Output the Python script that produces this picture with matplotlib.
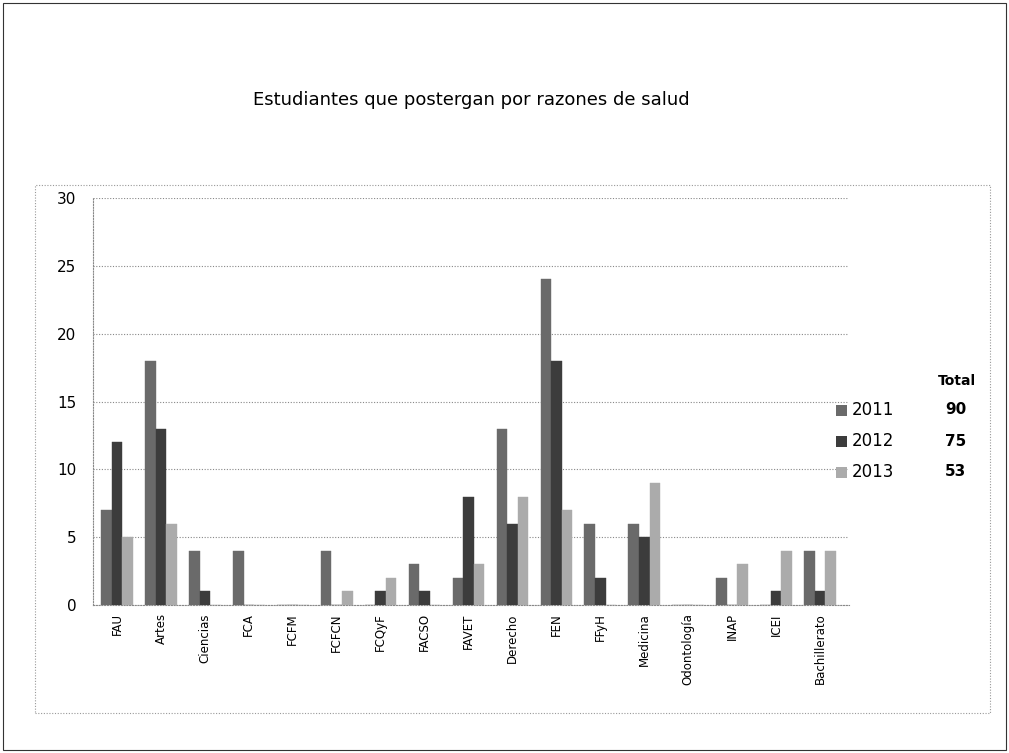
import numpy as np
import matplotlib.pyplot as plt
from matplotlib.patches import Rectangle

# datos
carreras = ['FAU', 'Artes', 'Ciencias', 'FCA', 'FCFM', 'FCFCN', 'FCQyF', 'FACSO', 'FAVET',
            'Derecho', 'FEN', 'FFyH', 'Medicina', 'Odontología', 'INAP', 'ICEI', 'Bachillerato']
v2011 = [7, 18, 4, 4, 0, 4, 0, 3, 2, 13, 24, 6, 6, 0, 2, 0, 4]
v2012 = [12, 13, 1, 0, 0, 0, 1, 1, 8, 6, 18, 2, 5, 0, 0, 1, 1]
v2013 = [5, 6, 0, 0, 0, 1, 2, 0, 3, 8, 7, 0, 9, 0, 3, 4, 4]
anios = ['2011', '2012', '2013']
totales = [90, 75, 53]
colores = ['#6a6a6a', '#3c3c3c', '#ababab']

fig = plt.figure(figsize=(10.09, 7.53), dpi=100)

# marco exterior y borde punteado del area del grafico
fig.patches.append(Rectangle((0.003, 0.004), 0.994, 0.992, transform=fig.transFigure,
                             fill=False, edgecolor='#333333', linewidth=0.8))
fig.patches.append(Rectangle((35 / 1009, 1 - 713 / 753), 955 / 1009, 528 / 753,
                             transform=fig.transFigure, fill=False, edgecolor='#999999',
                             linewidth=0.8, linestyle=(0, (1, 1.5))))

ax = fig.add_axes([0.092, 0.1965, 0.749, 0.5405])
x = np.arange(len(carreras))
w = 0.24
for i, vals in enumerate([v2011, v2012, v2013]):
    ax.bar(x + (i - 1) * w, vals, w, color=colores[i], edgecolor=colores[i],
           hatch='////', linewidth=0.3, zorder=3)

ax.set_ylim(0, 30)
ax.set_xlim(-0.55, len(carreras) - 0.35)
ax.set_yticks(range(0, 31, 5))
ax.set_xticks(x)
ax.set_xticklabels(carreras, rotation=90, fontsize=8.5)
ax.tick_params(axis='y', labelsize=11, length=0, pad=12)
ax.tick_params(axis='x', length=0, pad=6)
ax.grid(axis='y', color='#888888', linestyle=(0, (1, 1.5)), linewidth=0.8, zorder=0)
for s in ['top', 'right']:
    ax.spines[s].set_visible(False)
for s in ['left', 'bottom']:
    ax.spines[s].set_color('#888888')
    ax.spines[s].set_linestyle((0, (1, 1.5)))

fig.text(0.467, 0.867, 'Estudiantes que postergan por razones de salud',
         ha='center', va='center', fontsize=13)

# leyenda con totales
fig.text(938 / 1009, 0.494, 'Total', fontsize=10, fontweight='bold', ha='left', va='center')
for i, (a, t) in enumerate(zip(anios, totales)):
    yy = 1 - (410 + 31 * i) / 753
    fig.patches.append(Rectangle((836 / 1009, yy - 0.008), 0.011, 0.015,
                                 transform=fig.transFigure, facecolor=colores[i],
                                 edgecolor='none'))
    fig.text(852 / 1009, yy, a, fontsize=12, ha='left', va='center')
    fig.text(945 / 1009, yy, str(t), fontsize=11, fontweight='bold', ha='left', va='center')

fig.savefig('out.png', dpi=100)
